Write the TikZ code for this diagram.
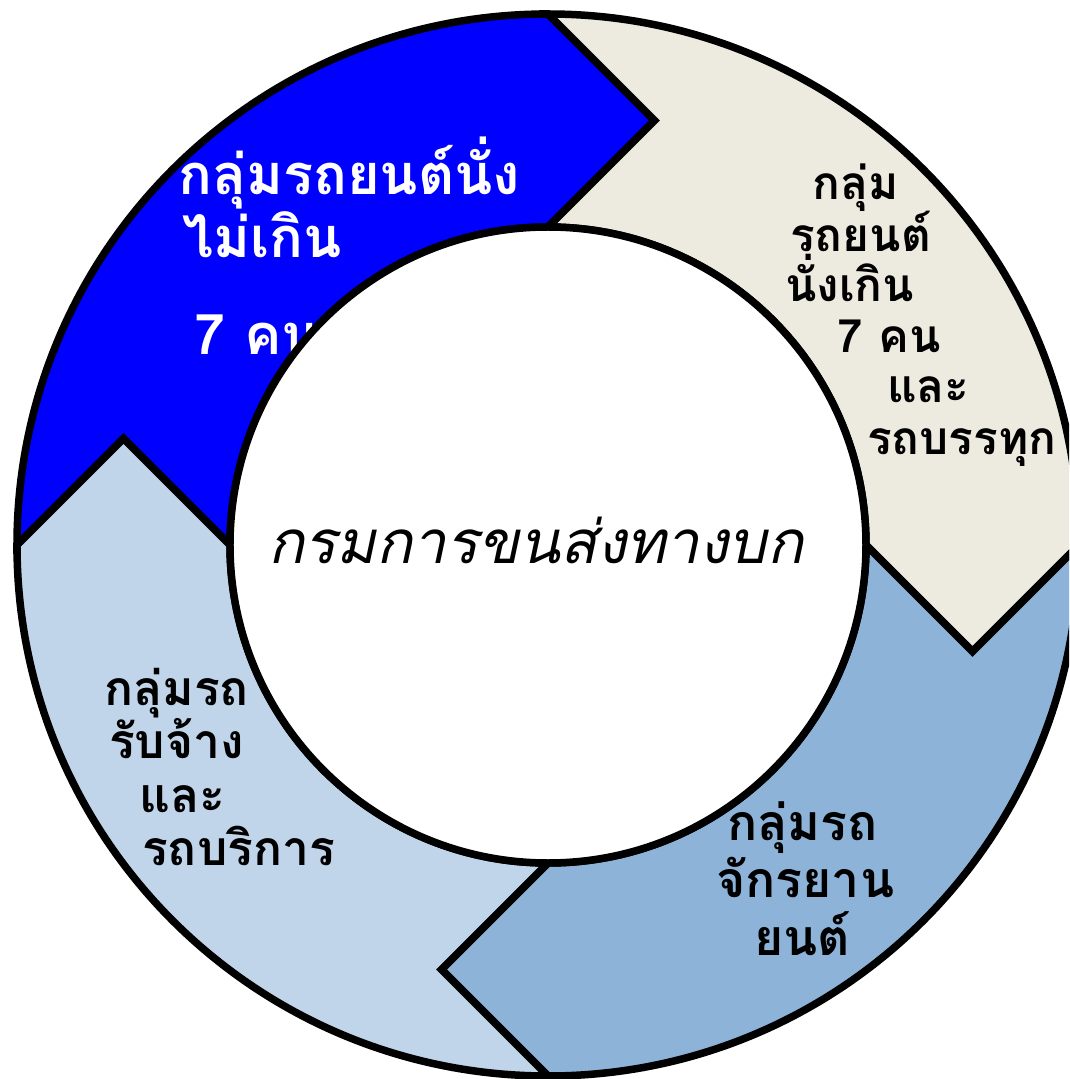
\documentclass[tikz,border=0pt]{standalone}
\usepackage{fontspec}
\newfontfamily\thaifont[Script=Thai]{Loma}
\usetikzlibrary{calc}
\definecolor{segblue}{HTML}{0000FF}
\definecolor{segbeige}{HTML}{EDEBE0}
\definecolor{segmid}{HTML}{8EB3D9}
\definecolor{seglight}{HTML}{C0D4EA}
\def\Ro{531}
\def\Ri{318}
\def\Rm{424.5}
\def\Hh{106.5}
\newcommand\ringseg[2]{%
  \path[segline, fill=#2] (#1+90:\Ro) arc[start angle=#1+90, end angle=#1, radius=\Ro]
    -- ($(#1:\Rm)+(#1-90:\Hh)$) -- (#1:\Ri)
    arc[start angle=#1, end angle=#1+90, radius=\Ri]
    -- ($(#1+90:\Rm)+(#1:\Hh)$) -- cycle;}
\begin{document}
\begin{tikzpicture}[x=1pt,y=1pt,
  segline/.style={draw=black, line width=7.5pt, line join=miter},
  lbl/.style={anchor=base west, inner sep=0pt, font=\thaifont\bfseries\fontsize{46}{46}\selectfont},
  bllbl/.style={lbl, font=\thaifont\bfseries\fontsize{48}{48}\selectfont},
  brlbl/.style={lbl, font=\thaifont\bfseries\fontsize{50}{50}\selectfont},
  bluelbl/.style={lbl, text=white, font=\thaifont\bfseries\fontsize{56}{56}\selectfont},
  centerlbl/.style={anchor=base west, inner sep=0pt, font=\thaifont\itshape\fontsize{60}{60}\selectfont}]
\useasboundingbox (-548,-534) rectangle (521,545);
\clip (-548,-534) rectangle (521,545);
% ring segments
\ringseg{90}{segblue}
\ringseg{0}{segbeige}
\ringseg{270}{segmid}
\ringseg{180}{seglight}
% blue segment text
\node[bluelbl] (b1) at (-370,350) {กลุ่มรถยนต์นั่ง};
\node[bluelbl] (b2) at (-366,287) {ไม่เกิน};
\node[bluelbl] (b3) at (-354,190) {7 คน};
% beige segment text
\node[lbl] (e1) at (264,345) {กลุ่ม};
\node[lbl] (e2) at (242,293) {รถยนต์};
\node[lbl] (e3) at (237,243) {นั่งเกิน};
\node[lbl] (e4) at (289,192) {7 คน};
\node[lbl] (e5) at (339,142) {และ};
\node[lbl] (e6) at (319,90) {รถบรรทุก};
% bottom-left text
\node[bllbl] (l1) at (-444,-160) {กลุ่มรถ};
\node[bllbl] (l2) at (-439,-213) {รับจ้าง};
\node[bllbl] (l3) at (-409,-267) {และ};
\node[bllbl] (l4) at (-406,-320) {รถบริการ};
% bottom-right text
\node[brlbl] (m1) at (179,-295) {กลุ่มรถ};
\node[brlbl] (m2) at (168,-352) {จักรยาน};
\node[brlbl] (m3) at (206,-410) {ยนต์};
% inner circle
\node[circle, fill=white, draw=black, line width=7.5pt, minimum size=636pt, inner sep=0pt] (hub) at (0,0) {};
\node[centerlbl] (title) at (-280,-18) {กรมการขนส่งทางบก};
\end{tikzpicture}
\end{document}
